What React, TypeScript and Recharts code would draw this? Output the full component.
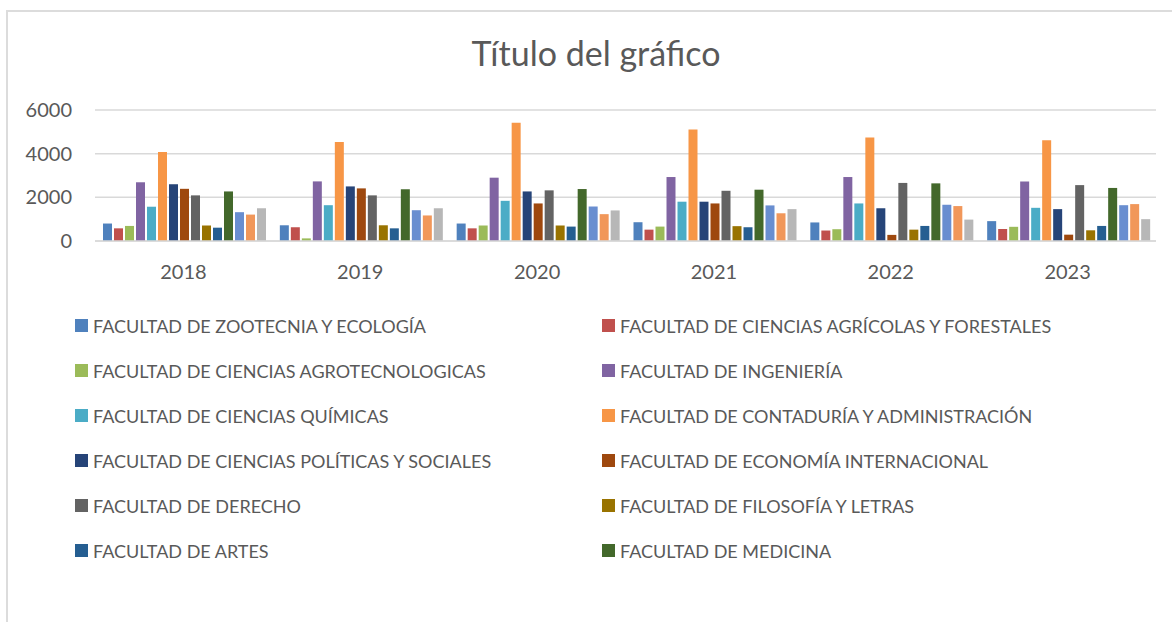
import React from 'react';
import { BarChart, Bar, XAxis, YAxis, CartesianGrid, Legend } from 'recharts';

const years = ['2018', '2019', '2020', '2021', '2022', '2023'];
const yTicks = [0, 2000, 4000, 6000];

const faculties = [
    'FACULTAD DE ZOOTECNIA Y ECOLOGÍA',
    'FACULTAD DE CIENCIAS AGRÍCOLAS Y FORESTALES',
    'FACULTAD DE CIENCIAS AGROTECNOLOGICAS',
    'FACULTAD DE INGENIERÍA',
    'FACULTAD DE CIENCIAS QUÍMICAS',
    'FACULTAD DE CONTADURÍA Y ADMINISTRACIÓN',
    'FACULTAD DE CIENCIAS POLÍTICAS Y SOCIALES',
    'FACULTAD DE ECONOMÍA INTERNACIONAL',
    'FACULTAD DE DERECHO',
    'FACULTAD DE FILOSOFÍA Y LETRAS',
    'FACULTAD DE ARTES',
    'FACULTAD DE MEDICINA',
    // these three are cut off from the legend in the original
    'Serie 13',
    'Serie 14',
    'Serie 15',
];

const zootecnia = [800, 720, 800, 860, 850, 910];
const agricolas = [580, 630, 580, 520, 480, 550];
const agrotecnologicas = [690, 120, 710, 660, 540, 650];
const ingenieria = [2690, 2730, 2900, 2930, 2930, 2730];
const quimicas = [1570, 1640, 1840, 1800, 1720, 1520];
const contaduria = [4080, 4530, 5420, 5110, 4740, 4620];
const politicas = [2600, 2500, 2270, 1800, 1500, 1460];
const economia = [2390, 2410, 1720, 1720, 280, 290];
const derecho = [2090, 2090, 2320, 2300, 2660, 2560];
const filosofia = [710, 720, 710, 680, 520, 490];
const artes = [610, 580, 660, 630, 690, 690];
const medicina = [2270, 2370, 2380, 2350, 2640, 2430];
const serie13 = [1320, 1410, 1580, 1630, 1660, 1640];
const serie14 = [1210, 1170, 1230, 1270, 1600, 1690];
const serie15 = [1500, 1500, 1400, 1460, 980, 1000];

const seriesValues = [
    zootecnia, agricolas, agrotecnologicas, ingenieria, quimicas, contaduria,
    politicas, economia, derecho, filosofia, artes, medicina,
    serie13, serie14, serie15,
];

const colors = [
    '#4F81BD', '#C0504D', '#9BBB59', '#8064A2', '#4BACC6', '#F79646',
    '#264478', '#9E480E', '#636363', '#997300', '#255E91', '#43682B',
    '#698ED0', '#F1975A', '#B7B7B7',
];

const data = years.map((year, i) => {
    const row: Record<string, string | number> = { year };
    faculties.forEach((name, s) => {
        row[`s${s}`] = seriesValues[s][i];
    });
    return row;
});

const FONT = 'Lato, "Open Sans", sans-serif';
const TEXT = '#595959';

const LegendGrid = ({ payload }: any) => {
    // keep the series order, the legend sorts by name otherwise
    const items = (payload || [])
        .filter((p: any) => p.type !== 'none')
        .sort((a: any, b: any) => faculties.indexOf(a.value) - faculties.indexOf(b.value));
    return (
        <div style={{ display: 'grid', gridTemplateColumns: '527px 527px', gridAutoRows: '45px' }}>
            {items.map((entry: any, index: number) => (
                <div key={index} style={{ display: 'flex', alignItems: 'center', whiteSpace: 'nowrap' }}>
                    <span style={{ width: 13, height: 13, background: entry.color, display: 'inline-block', marginRight: 5 }}></span>
                    <span style={{ fontFamily: FONT, fontSize: 18, color: TEXT }}>{entry.value}</span>
                </div>
            ))}
        </div>
    );
};

export default function App() {
    return (
        <div style={{ position: 'absolute', left: 0, top: 0, width: 1172, height: 622, background: '#fff', overflow: 'hidden' }}>
            {/* chart frame */}
            <div style={{ position: 'absolute', left: 6, top: 10, width: 1180, height: 640, borderLeft: '2px solid #dcdcdc', borderTop: '2px solid #dcdcdc' }}></div>

            <div style={{ position: 'absolute', left: 6, top: 36, width: 1180, textAlign: 'center', fontFamily: FONT, fontSize: 34, lineHeight: 1, color: TEXT }}>
                Título del gráfico
            </div>

            <div style={{ position: 'absolute', left: 0, top: 0 }}>
                <BarChart
                    width={1172}
                    height={622}
                    data={data}
                    margin={{ top: 110, right: 16, left: 0, bottom: 341 }}
                    barCategoryGap={8}
                    barGap={2}
                >
                    <CartesianGrid vertical={false} stroke="#d9d9d9" strokeWidth={1.5} />
                    <XAxis
                        dataKey="year"
                        height={40}
                        axisLine={{ stroke: '#d9d9d9', strokeWidth: 1.5 }}
                        tickLine={false}
                        tickSize={0}
                        tickMargin={24}
                        tick={{ fill: TEXT, fontSize: 20, fontFamily: FONT }}
                    />
                    <YAxis
                        width={95}
                        domain={[0, 6000]}
                        ticks={yTicks}
                        axisLine={false}
                        tickLine={false}
                        tickSize={0}
                        tickMargin={23}
                        tick={{ fill: TEXT, fontSize: 20, fontFamily: FONT }}
                    />
                    <Legend
                        layout="horizontal"
                        verticalAlign="middle"
                        align="center"
                        wrapperStyle={{ top: 303, left: 75, width: 1080 }}
                        content={<LegendGrid />}
                    />
                    {faculties.map((name, s) => (
                        <Bar
                            key={name}
                            dataKey={`s${s}`}
                            name={name}
                            fill={colors[s]}
                            legendType={s < 12 ? 'square' : 'none'}
                            isAnimationActive={false}
                        />
                    ))}
                </BarChart>
            </div>
        </div>
    );
}
